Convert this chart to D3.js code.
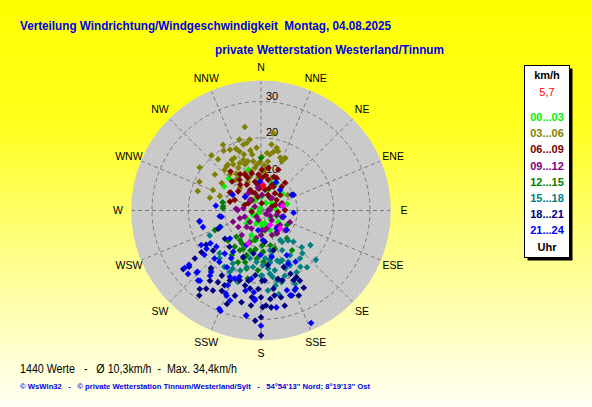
<!DOCTYPE html>
<html><head><meta charset="utf-8">
<script src="https://cdn.jsdelivr.net/npm/d3@7"></script>
<style>html,body{margin:0;padding:0;overflow:hidden}svg{display:block}text{white-space:pre}</style>
</head><body>
<script>
// ---- data: [direction in degrees (0 = N, clockwise), speed km/h] ----
const directions = ["N","NNE","NE","ENE","E","ESE","SE","SSE","S","SSW","SW","WSW","W","WNW","NW","NNW"];
const ringValues = [10, 20, 30];
const hourLabels = ["00...03","03...06","06...09","09...12","12...15","15...18","18...21","21...24"];
const hourColors = ["#00f000","#808000","#800000","#800080","#008000","#008080","#000080","#0000ff"];

const h00_03 = [[315,12.5],[303,12.1],[343,11.8],[358,7.5],[21,8.1],[53,7.2],[30,8.7],[50,7.5],[3,3.8],[224,1.1],
  [233,4.4],[163,3.7],[56,3.6],[273,2.6],[240,2.5],[185,3.1],[228,5.3],[131,3.3],[174,5.9],[201,7.3],[81,3.9],[336,0.7],
  [19,6.0],[330,3.3],[124,5.7],[76,7.4],[34,2.5],[176,4.3],[190,8.3],[288,4.9],[155,5.9],[110,4.5],[150,7.5],[200,3.8]];
const h03_06 = [[343,20.4],[330,20.9],[328,19.4],[338,18.3],[340,17.3],[350,16.8],[356,17.3],[9,18.4],[14,17.8],[16,17.0],
  [6,15.9],[12,16.5],[25,15.9],[23,14.7],[318,20.4],[333,16.2],[341,14.8],[336,14.3],[329,14.8],[332,13.3],[322,15.4],
  [305,20.6],[318,15.0],[355,12.7],[351,13.7],[345,14.0],[319,13.1],[337,11.2],[346,11.1],[295,18.7],[293,14.4],[287,18.2],
  [289,12.0],[60,8.5],[317,8.5],[18,9.4],[349,23.4],[9,21.5],[355,9.0],[3,10.7],[335,8.7],[321,10.9],[352,11.9],[8,13.6],
  [1,14.8],[343,16.1],[326,12.2],[342,9.8],[4,12.5],[348,19.0],
  [330,16.1],[341,13.4],[351,15.6],[359,13.4],[327,11.7],[324,15.6],[6,11.3],[345,18.8],[333,18.8],[20,15.5],[9,15.6],
  [351,19.8],[320,18.4],[308,16.1],[305,13.2],[284,14.5]];
const h06_09 = [[322,13.6],[336,10.8],[346,10.6],[356,9.9],[13,8.7],[26,9.9],[41,8.7],[286,8.9],[300,9.4],[310,8.2],
  [331,8.1],[341,5.0],[11,5.8],[39,6.1],[56,5.2],[71,6.1],[89,6.6],[300,4.0],[6,2.0],[70,3.2],[263,2.6],[311,5.8],
  [1,11.2],[10,11.9],[64,9.9],[300,9.9],[21,9.9],[348,8.1],[2,7.1],[36,4.3],[332,6.4],[347,3.8],[8,9.7],[325,10.3],
  [319,3.8],[95,4.7],[20,6.5],[355,6.0],[28,7.4],[330,11.5],
  [321,9.1],[338,9.7],[2,9.0],[23,7.7],[51,6.8],[292,7.8],[334,5.7],[24,4.7],[353,7.1],[289,4.7],[69,4.2],[315,11.3],
  [41,10.1],[23,12.2]];
const h09_12 = [[271,6.4],[249,4.8],[196,2.7],[132,4.0],[136,6.3],[143,7.3],[168,5.5],[221,6.0],[234,7.7],[302,2.0],
  [86,2.0],[107,6.0],[324,5.9],[250,6.2],[215,2.1],[106,4.5],[127,6.6],[162,5.2],[208,5.6],[87,2.5],[277,4.9],[105,6.4],
  [145,7.7],[248,8.3],[4,4.3],[41,4.6],[314,4.2],[352,6.3],[74,5.5],[180,6.8],[120,3.0],
  [224,4.4],[177,5.4],[156,7.4],[129,8.6],[218,8.6],[190,7.7],[112,8.6],[125,1.7],[274,6.9]];
const h12_15 = [[273,10.5],[247,13.8],[223,9.9],[205,11.6],[216,12.3],[199,9.2],[198,12.9],[185,13.3],[177,14.2],[177,11.4],
  [194,16.5],[137,10.5],[119,8.2],[220,21.4],[282,10.8],[248,12.0],[208,12.4],[142,13.9],[191,19.1],[0,14.5],[276,10.5],
  [192,8.3],[165,9.9],[204,15.6],[210,10.5],[188,10.8],[200,14.0],
  [215,10.0],[197,14.9],[213,14.7],[195,11.4],[183,16.5],[178,9.6],[228,12.3],[160,11.1]];
const h15_18 = [[244,15.7],[147,9.7],[167,12.7],[178,15.1],[160,15.1],[147,14.7],[132,15.1],[150,19.6],[141,20.1],[213,18.5],
  [221,17.4],[206,17.8],[188,15.7],[146,10.4],[134,12.4],[136,16.4],[167,19.7],[164,20.5],[155,22.3],[168,23.6],[185,14.2],
  [167,11.2],[157,14.9],[208,16.5],[207,19.0],[198,20.7],[224,16.4],[173,16.1],[170,18.6],[194,16.1],[145,18.9],[167,16.9],
  [175,13.2],[157,17.3],[162,14.5],[172,17.6],[180,18.0],[152,16.0],[170,13.8],
  [170,14.5],[152,12.4],[152,17.1],[179,17.9],[160,19.1],[141,17.0],[125,16.6],[169,21.0],[193,13.5],[199,17.5],
  [138,11.1],[175,22.1],[132,20.3]];
const h18_21 = [[260,17.2],[233,26.8],[218,27.4],[215,26.3],[211,25.7],[206,24.6],[200,27.4],[188,29.2],[186,26.3],[180,34.4],
  [179,26.6],[177,26.2],[167,24.5],[160,24.9],[151,24.3],[171,21.8],[182,21.6],[190,19.6],[197,20.1],[204,21.1],[221,21.0],
  [238,17.8],[235,20.0],[230,17.2],[232,12.6],[221,13.2],[163,20.1],[155,19.2],[152,20.8],[158,16.8],[185,17.9],[177,19.3],
  [247,12.8],[201,13.7],[190,12.0],[163,11.5],[173,8.7],[186,24.0],[180,23.9],[232,25.1],[216,28.9],[192,25.8],[174,24.5],
  [180,29.4],[174,26.8],[156,25.6],[155,21.2],[166,19.4],[179,19.3],[211,20.9],[211,23.0],
  [197,24.5],[192,21.1],[171,23.7],[166,27.0],[216,23.9],[234,22.5],[206,22.9],[151,22.1],[183,30.4],[188,21.7],[173,15.2]];
const h21_24 = [[276,12.5],[262,11.5],[254,16.6],[237,16.6],[240,19.0],[233,24.8],[229,26.6],[226,24.3],[221,25.6],[219,21.8],
  [219,18.2],[211,18.2],[205,20.2],[198,19.2],[204,22.5],[202,25.3],[199,26.2],[202,29.8],[184,24.8],[171,27.0],[180,31.7],
  [156,33.9],[157,23.8],[162,23.1],[94,9.0],[106,6.4],[139,6.6],[176,8.2],[203,10.3],[214,13.7],[185,22.6],[188,19.0],
  [167,13.1],[153,16.5],[299,8.9],[311,5.8],[358,8.0],[43,7.7],[63,9.5],[28,8.8],[260,17.1],[261,11.0],[248,12.2],
  [228,11.5],[231,15.8],[235,18.3],[232,19.8],[233,26.3],[224,18.4],[220,15.5],[212,15.5],[188,5.5],[127,8.9],[146,17.0],
  [150,14.2],[181,12.3],[222,25.9],[226,24.6],[218,22.8],[203,24.8],[203,29.4],[191,22.5],[184,24.4],[188,29.2],[161,24.7],
  [156,23.5],[201,20.1],[64,9.9]];
const highlight = [[5,7.1],[78,6.1],[148,4.7],[133,7.2],[201,9.7]];
const current = [[5,6.8]];

const series = [h00_03, h03_06, h06_09, h09_12, h12_15, h15_18, h18_21, h21_24];

const titleText = "Verteilung Windrichtung/Windgeschwindigkeit  Montag, 04.08.2025";
const subtitleText = "private Wetterstation Westerland/Tinnum";
const unitText = "km/h";
const currentText = "5,7";
const footerStats = "1440 Werte   -   Ø 10,3km/h  -  Max. 34,4km/h";
const footerCopy = "© WsWin32   -   © private Wetterstation Tinnum/Westerland/Sylt   -   54°54'13\" Nord; 8°19'13\" Ost";

// ---- drawing ----
const W = 592, H = 407;
const cx = 261, cy = 210.5;
const svg = d3.select("body").append("svg").attr("width", W).attr("height", H);
const defs = svg.append("defs");
const grad = defs.append("linearGradient").attr("id","bg").attr("x1",0).attr("y1",0).attr("x2",0).attr("y2",1);
grad.append("stop").attr("offset","0").attr("stop-color","#ffff00");
grad.append("stop").attr("offset","0.3").attr("stop-color","#ffff1c");
grad.append("stop").attr("offset","0.65").attr("stop-color","#ffff90");
grad.append("stop").attr("offset","1").attr("stop-color","#fffff6");
svg.append("rect").attr("width",W).attr("height",H).attr("fill","url(#bg)");

const pat = defs.append("pattern").attr("id","dots").attr("width",4).attr("height",4).attr("patternUnits","userSpaceOnUse");
pat.append("rect").attr("width",4).attr("height",4).attr("fill","#c8c8c8");
pat.append("rect").attr("x",0).attr("y",0).attr("width",1).attr("height",1).attr("fill","#d8d8d8");
pat.append("rect").attr("x",2).attr("y",2).attr("width",1).attr("height",1).attr("fill","#d8d8d8");

const r = d3.scaleLinear().domain([0, 30]).range([0, 109]);
const rMax = 35.75;
const angle = d3.scaleLinear().domain([0, 360]).range([0, 2 * Math.PI]);

const g = svg.append("g").attr("transform", `translate(${cx},${cy})`);
g.append("circle").attr("r", r(rMax)).attr("fill", "url(#dots)");

// spokes
g.selectAll("line.spoke").data(directions).join("line").attr("class","spoke")
  .each(function(d, i) {
    const p = d3.pointRadial(angle(i * 22.5), r(rMax) - 1);
    d3.select(this).attr("x1", 0).attr("y1", 0).attr("x2", p[0]).attr("y2", p[1]);
  })
  .attr("stroke", "#7a7a7a").attr("stroke-width", 1).attr("stroke-dasharray", "4,3");
// rings
g.selectAll("circle.ring").data(ringValues).join("circle").attr("class","ring")
  .attr("r", d => r(d)).attr("fill","none")
  .attr("stroke", "#7a7a7a").attr("stroke-width", 1).attr("stroke-dasharray", "4,3");
g.selectAll("text.ringlab").data(ringValues).join("text").attr("class","ringlab")
  .attr("x", 5).attr("y", d => -r(d) - 1.5).text(d => d)
  .attr("font-family", "Liberation Sans, Arial, sans-serif").attr("font-size", "11px").attr("fill", "#000");

// compass labels
g.selectAll("text.dir").data(directions).join("text").attr("class","dir")
  .each(function(d, i) {
    const p = d3.pointRadial(angle(i * 22.5), 143);
    d3.select(this).attr("x", p[0]).attr("y", p[1]);
  })
  .attr("text-anchor", "middle").attr("dy", "0.36em")
  .attr("font-family", "Liberation Sans, Arial, sans-serif").attr("font-size", "10.5px").attr("fill", "#000")
  .text(d => d);

// points
const diamond = "M0,-3.3L3.3,0L0,3.3L-3.3,0Z";
function plot(data, color) {
  g.append("g").selectAll("path").data(data).join("path")
    .attr("d", diamond)
    .attr("transform", d => { const p = d3.pointRadial(angle(d[0]), r(d[1])); return `translate(${p[0]},${p[1]})`; })
    .attr("fill", color);
}
series.forEach((s, i) => plot(s, hourColors[i]));
plot(highlight, "#ff00ff");
plot(current, "#ff0000");

// titles
const font = "Liberation Sans, Arial, sans-serif";
svg.append("text").attr("x", 20).attr("y", 29.5).text(titleText)
  .attr("font-family", font).attr("font-weight", "bold").attr("font-size", "13px").attr("fill", "#0000e6")
  .attr("textLength", 371).attr("lengthAdjust", "spacingAndGlyphs");
svg.append("text").attr("x", 215).attr("y", 54).text(subtitleText)
  .attr("font-family", font).attr("font-weight", "bold").attr("font-size", "13px").attr("fill", "#0000e6")
  .attr("textLength", 229).attr("lengthAdjust", "spacingAndGlyphs");

// legend
svg.append("rect").attr("x", 527.5).attr("y", 68.5).attr("width", 45).attr("height", 192).attr("fill", "#000");
svg.append("rect").attr("x", 524.5).attr("y", 65.5).attr("width", 45).attr("height", 192)
  .attr("fill", "#fff").attr("stroke", "#000").attr("stroke-width", 1);
const lx = 547;
svg.append("text").attr("x", lx).attr("y", 79).attr("text-anchor","middle").text(unitText)
  .attr("font-family", font).attr("font-weight","bold").attr("font-size","11px").attr("fill","#000");
svg.append("text").attr("x", lx).attr("y", 95.5).attr("text-anchor","middle").text(currentText)
  .attr("font-family", font).attr("font-size","11px").attr("fill","#ff0000");
const ly = d3.scaleLinear().domain([0, 8]).range([121, 250.6]);
svg.append("g").selectAll("text").data(hourLabels).join("text")
  .attr("x", lx).attr("y", (d, i) => ly(i)).attr("text-anchor","middle").text(d => d)
  .attr("font-family", font).attr("font-weight","bold").attr("font-size","11px")
  .attr("fill", (d, i) => hourColors[i]);
svg.append("text").attr("x", lx).attr("y", ly(8)).attr("text-anchor","middle").text("Uhr")
  .attr("font-family", font).attr("font-weight","bold").attr("font-size","11px").attr("fill","#000");

// footer
svg.append("text").attr("x", 20).attr("y", 373).text(footerStats)
  .attr("font-family", font).attr("font-size", "12px").attr("fill", "#000")
  .attr("textLength", 217).attr("lengthAdjust", "spacingAndGlyphs");
svg.append("text").attr("x", 20).attr("y", 389).text(footerCopy)
  .attr("font-family", font).attr("font-weight","bold").attr("font-size", "8px").attr("fill", "#0000e6")
  .attr("textLength", 350).attr("lengthAdjust", "spacingAndGlyphs");
</script>
</body></html>
